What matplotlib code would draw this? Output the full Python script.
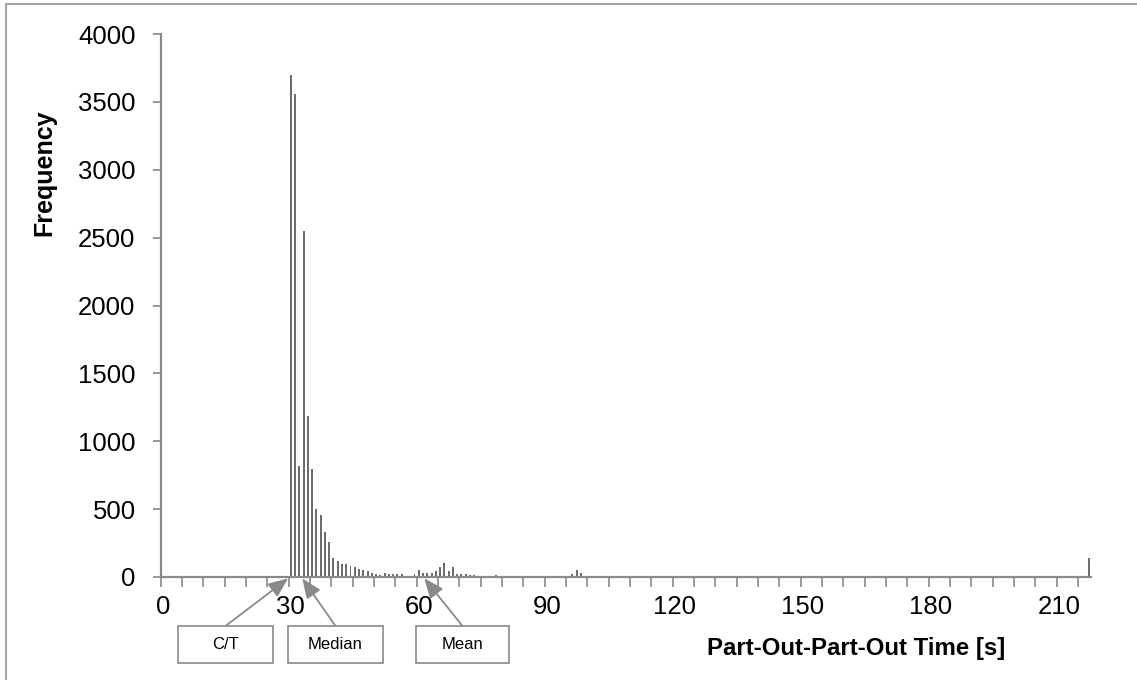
import matplotlib
matplotlib.use("Agg")
import matplotlib.pyplot as plt
from matplotlib.patches import Rectangle
from matplotlib.lines import Line2D
import numpy as np

plt.rcParams['font.family'] = ['Liberation Sans', 'DejaVu Sans']

# Frequency per part-out-part-out time (seconds), categories 0..217
times = list(range(0, 218))
nonzero = {
    30: 3700, 31: 3555, 32: 818, 33: 2547, 34: 1185, 35: 792, 36: 498,
    37: 456, 38: 331, 39: 260, 40: 142, 41: 115, 42: 95, 43: 93, 44: 78,
    45: 74, 46: 57, 47: 49, 48: 44, 49: 29, 50: 25, 51: 17, 52: 32,
    53: 25, 54: 25, 55: 25, 56: 25, 57: 10, 58: 10, 59: 22, 60: 49,
    61: 29, 62: 32, 63: 27, 64: 42, 65: 71, 66: 106, 67: 47, 68: 71,
    69: 22, 70: 20, 71: 22, 72: 17, 73: 17, 74: 7, 75: 4, 76: 8, 77: 8,
    78: 12, 79: 3, 80: 2, 82: 2, 84: 2, 87: 3, 90: 3, 94: 10, 96: 20,
    97: 49, 98: 27, 100: 4, 104: 8, 217: 138,
}
frequency = [nonzero.get(t, 0) for t in times]

tick_labels = ['0', '30', '60', '90', '120', '150', '180', '210']
tick_positions = [0, 30, 60, 90, 120, 150, 180, 210]

annotations = ['C/T', 'Median', 'Mean']
annotation_x = [29.4, 32.7, 61.3]

W, H = 1137, 680
fig = plt.figure(figsize=(W / 100, H / 100), dpi=100)
ax_w = 1090.8 - 160.6
ax = fig.add_axes([160.6 / W, (H - 577) / H, ax_w / W, (577 - 34) / H])

grey = '#898989'
ax.bar(times, frequency, width=0.45, color='#6c6c6c', linewidth=0)
ax.set_xlim(-0.5, len(times) - 0.5)
ax.set_ylim(0, 4000)
ax.set_yticks(np.arange(0, 4001, 500))

ax.set_xticks(tick_positions)
ax.set_xticklabels(tick_labels)
ax.tick_params(axis='x', which='major', length=0, pad=13, labelsize=18.5, colors='black')
ax.set_xticks(np.arange(-0.5, len(times), 5), minor=True)
ax.tick_params(axis='x', which='minor', length=7, width=1.2, color=grey, direction='out')
ax.tick_params(axis='y', length=6, width=1.2, color=grey, pad=12, labelsize=18.5, labelcolor='black')

for s in ['top', 'right']:
    ax.spines[s].set_visible(False)
for s in ['left', 'bottom']:
    ax.spines[s].set_color(grey)
    ax.spines[s].set_linewidth(1.6)

ax.set_ylabel('Frequency', fontsize=18, fontweight='bold')
ax.yaxis.set_label_coords((56 - 160.6) / ax_w, 0.745)

fig.text(1005 / W, (H - 648) / H, 'Part-Out-Part-Out Time [s]', fontsize=17.3,
         fontweight='bold', ha='right', va='center')

# Annotation boxes (pixel layout)
boxes = [(178, 273), (288, 383), (416, 509)]
box_top, box_bot = 626, 663
for label, xa, (x0, x1) in zip(annotations, annotation_x, boxes):
    fig.add_artist(Rectangle((x0 / W, (H - box_bot) / H), (x1 - x0) / W,
                             (box_bot - box_top) / H, transform=fig.transFigure,
                             facecolor='white', edgecolor=grey, linewidth=1.2))
    fig.text((x0 + x1) / 2 / W, (H - (box_top + box_bot) / 2) / H, label,
             fontsize=12, ha='center', va='center')
    ax.annotate('', xy=(xa, -10), xycoords='data',
                xytext=((x0 + x1) / 2 / W, (H - box_top) / H), textcoords='figure fraction',
                arrowprops=dict(arrowstyle='-|>,head_length=0.6,head_width=0.25', color=grey,
                                lw=1.3, mutation_scale=20, shrinkA=0, shrinkB=0),
                annotation_clip=False)

# Outer chart border
fig.add_artist(Line2D([6 / W, 6 / W], [0, (H - 4) / H], transform=fig.transFigure,
                      color='#a6a6a6', lw=1.5))
fig.add_artist(Line2D([6 / W, 1], [(H - 4) / H, (H - 4) / H], transform=fig.transFigure,
                      color='#a6a6a6', lw=1.5))

fig.savefig('out.png', dpi=100)
